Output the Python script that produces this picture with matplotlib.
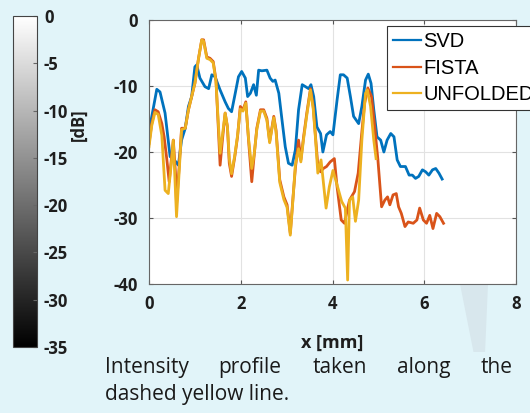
import matplotlib
matplotlib.use("Agg")
import matplotlib.pyplot as plt
from matplotlib.patches import Rectangle, Polygon
import matplotlib.cm as cm
import matplotlib.colors as mcolors

# intensity profiles [dB] along x [mm]
svd_x = [0, 0.17, 0.24, 0.35, 0.46, 0.53, 0.64, 0.71, 0.79, 0.86, 0.93, 1.0, 1.04, 1.11, 1.22, 1.30,
         1.37, 1.44, 1.55, 1.66, 1.73, 1.80, 1.88, 1.95, 2.02, 2.10, 2.15, 2.21, 2.28, 2.34, 2.39, 2.46,
         2.57, 2.64, 2.70, 2.75, 2.83, 2.90, 2.97, 3.04, 3.12, 3.19, 3.26, 3.34, 3.41, 3.48, 3.53, 3.59,
         3.66, 3.74, 3.79, 3.87, 3.95, 4.01, 4.10, 4.17, 4.24, 4.32, 4.39, 4.46, 4.57, 4.64, 4.72, 4.78,
         4.84, 4.90, 4.97, 5.05, 5.12, 5.19, 5.27, 5.34, 5.41, 5.48, 5.59, 5.67, 5.74, 5.81, 5.88, 5.96,
         6.03, 6.10, 6.18, 6.25, 6.32, 6.39]
svd_y = [-16.9, -10.5, -10.9, -14.1, -20.7, -21, -22, -18.2, -16.4, -13.1, -11.6, -7.1, -6.8, -8.8, -10.1, -10.4,
         -8.3, -8.6, -10.6, -12.4, -13.4, -13.9, -11.1, -8.6, -7.8, -8.8, -11.6, -11.1, -9.8, -11.4, -7.6, -7.7,
         -7.6, -8.8, -9.3, -9.1, -11.1, -15.2, -19.2, -21.7, -22, -19.7, -13.6, -9.8, -10.1, -10.4, -9.8, -11.6,
         -16.2, -17.2, -20, -17.4, -16.9, -17.4, -12.1, -8.3, -8.3, -8.8, -11.6, -14.6, -15.7, -13.1, -9.1, -8.2,
         -9.6, -13.6, -17.7, -18.2, -20, -18.2, -17.2, -17.7, -21.2, -22.2, -22.2, -23.5, -23.5, -24, -23.7, -22.7,
         -23, -23.5, -22.7, -22.5, -23.2, -24.1]

fista_x = [0, 0.06, 0.13, 0.20, 0.28, 0.33, 0.39, 0.44, 0.50, 0.53, 0.58, 0.60, 0.66, 0.71, 0.79, 0.86,
           0.93, 1.0, 1.08, 1.15, 1.19, 1.26, 1.33, 1.40, 1.46, 1.51, 1.55, 1.60, 1.66, 1.71, 1.75, 1.80,
           1.87, 1.93, 1.99, 2.05, 2.11, 2.17, 2.24, 2.29, 2.35, 2.43, 2.50, 2.57, 2.63, 2.72, 2.77, 2.85,
           2.94, 3.01, 3.08, 3.14, 3.19, 3.26, 3.31, 3.37, 3.44, 3.52, 3.58, 3.63, 3.68, 3.74, 3.80, 3.87,
           3.95, 4.04, 4.10, 4.19, 4.26, 4.37, 4.48, 4.56, 4.63, 4.70, 4.77, 4.85, 4.92, 4.99, 5.07, 5.14,
           5.20, 5.25, 5.32, 5.39, 5.44, 5.50, 5.58, 5.65, 5.76, 5.84, 5.90, 5.98, 6.05, 6.12, 6.19, 6.27,
           6.34, 6.42]
fista_y = [-18.7, -15.7, -13.6, -13.9, -15.7, -17.7, -21.2, -24.5, -20.2, -18.2, -23.5, -28.0, -22, -16.4, -16.4, -13.6,
           -11.6, -9.6, -5.8, -3.0, -3.0, -5.6, -5.8, -6.3, -9.1, -16.2, -22, -18.2, -14.1, -16.2, -21.7, -23.7,
           -20.7, -17.7, -13.1, -13.6, -12.4, -18.2, -24.5, -20.7, -16.4, -13.6, -13.6, -14.9, -18.4, -14.6, -16.7, -24.2,
           -26.8, -28, -32.3, -26.8, -22.5, -18.2, -21.2, -17.7, -14.1, -10.4, -13.1, -17.7, -22, -23, -22.5, -22.2,
           -21.5, -21, -25.3, -30.3, -30.8, -27.3, -26, -23.2, -17.7, -12.6, -10.3, -11.6, -16.2, -21.2, -28.3, -27.3,
           -26.8, -28, -26.5, -26.3, -28.3, -29.3, -31.3, -30.6, -30.8, -30.3, -28.5, -30.3, -30.8, -29.6, -31.6, -29.3,
           -29.8, -30.8]

unf_x = [0, 0.06, 0.13, 0.20, 0.28, 0.35, 0.42, 0.48, 0.53, 0.60, 0.66, 0.71, 0.79, 0.86, 0.93, 1.0,
         1.08, 1.15, 1.19, 1.26, 1.33, 1.40, 1.46, 1.51, 1.55, 1.60, 1.66, 1.71, 1.75, 1.80, 1.87, 1.93,
         1.99, 2.05, 2.11, 2.17, 2.24, 2.29, 2.35, 2.43, 2.50, 2.57, 2.63, 2.72, 2.77, 2.85, 2.94, 3.01,
         3.08, 3.14, 3.19, 3.26, 3.31, 3.37, 3.44, 3.52, 3.58, 3.63, 3.68, 3.75, 3.86, 3.93, 4.01, 4.10,
         4.20, 4.28, 4.33, 4.37, 4.44, 4.50, 4.57, 4.64, 4.72, 4.76, 4.83, 4.90, 4.95]
unf_y = [-19.2, -16.0, -14.0, -14.3, -17.5, -25.8, -26.3, -22.2, -18.2, -29.8, -22.7, -16.6, -16.4, -13.6, -11.6, -9.6,
         -5.8, -3.0, -3.2, -5.8, -6.0, -6.5, -9.3, -15.5, -20.2, -17.5, -14.1, -16.2, -21.0, -23.3, -20.5, -17.5,
         -13.5, -13.8, -12.6, -18.0, -22.5, -20.5, -16.6, -13.8, -13.8, -15.2, -18.6, -14.8, -17.0, -24.6, -27.2, -28.4,
         -32.6, -27.0, -22.0, -19.5, -21.5, -18.0, -14.4, -10.6, -13.5, -18.0, -23.2, -21.2, -28.5, -25.3, -22.8, -25.0,
         -27.5, -28.5, -39.4, -27.3, -26.8, -30.5, -27.3, -18.2, -11.1, -10.6, -13.1, -18.2, -21.0]

series_names = ["SVD", "FISTA", "UNFOLDED"]
series_colors = ["#0072BD", "#D95319", "#EDB120"]
x_ticks = [0, 2, 4, 6, 8]
y_ticks = [0, -10, -20, -30, -40]
cbar_ticks = [0, -5, -10, -15, -20, -25, -30, -35]
caption_line1 = ["Intensity", "profile", "taken", "along", "the"]
caption_line2 = "dashed yellow line."

W, H = 530, 413
bg = "#e1f4f9"
plt.rcParams["axes.unicode_minus"] = False
tick_font = {"family": "Open Sans", "weight": "bold", "size": 12}


def fx(px):
    return px / W


def fy(py):
    return 1 - py / H


fig = plt.figure(figsize=(W / 100, H / 100), dpi=100, facecolor=bg)

# faint watermark wedge behind everything
fig.add_artist(Polygon([(fx(460), fy(284)), (fx(488), fy(284)), (fx(483), fy(400))],
                       closed=True, transform=fig.transFigure, facecolor="#d8e7ed",
                       edgecolor="none", zorder=-1))

ax = fig.add_axes([fx(149), fy(284), fx(516) - fx(149), fy(20) - fy(284)])
ax.set_facecolor("white")
for xs, ys, name, col in zip([svd_x, fista_x, unf_x], [svd_y, fista_y, unf_y], series_names, series_colors):
    ax.plot(xs, ys, color=col, lw=2.0, label=name, solid_joinstyle="round")
ax.set_xlim(0, 8)
ax.set_ylim(-40, 0)
ax.set_xticks(x_ticks)
ax.set_yticks(y_ticks)
ax.grid(True, color="#e2e2e2", lw=0.8)
ax.set_axisbelow(True)
ax.tick_params(direction="in", length=3, top=True, right=True, color="#555555", pad=8)
for lab in ax.get_xticklabels() + ax.get_yticklabels():
    lab.set_fontproperties(tick_font)
    lab.set_color("#1e1e1e")
for sp in ax.spines.values():
    sp.set_color("#666666")
    sp.set_linewidth(0.8)

leg = ax.legend(loc="upper left", bbox_to_anchor=(fx(387), fy(26)), bbox_transform=fig.transFigure,
                fancybox=False, framealpha=1, edgecolor="#333333", handlelength=1.4,
                handletextpad=0.1, labelspacing=0.38, borderpad=0.3, borderaxespad=0,
                prop={"family": "Liberation Sans", "size": 14.5})
leg.get_frame().set_linewidth(0.8)
for ln in leg.get_lines():
    ln.set_linewidth(1.6)

# grey colorbar on the left
cax = fig.add_axes([fx(13), fy(347), fx(37) - fx(13), fy(16) - fy(347)])
sm = cm.ScalarMappable(norm=mcolors.Normalize(vmin=-35, vmax=0), cmap="gray")
cb = fig.colorbar(sm, cax=cax, ticks=cbar_ticks)
cb.outline.set_edgecolor("#444444")
cb.outline.set_linewidth(0.8)
cax.tick_params(direction="in", length=3, color="#666666", pad=5)
for lab in cax.get_yticklabels():
    lab.set_fontproperties(tick_font)
    lab.set_color("#1e1e1e")
fig.text(fx(79), fy(125), "[dB]", rotation=90, ha="center", va="center",
         fontproperties=tick_font, color="#1e1e1e")

# x label, its lower edge hidden under the caption band
fig.text(fx(332), fy(334), "x [mm]", ha="center", va="top", family="Open Sans",
         fontweight="bold", fontsize=13, color="#1e1e1e")
fig.add_artist(Rectangle((fx(95), 0), 1 - fx(95), fy(352), transform=fig.transFigure,
                         facecolor=bg, edgecolor="none", zorder=2))

# justified caption
word_x = [105, 218, 313, 397, 513]
for i, (w, px) in enumerate(zip(caption_line1, word_x)):
    fig.text(fx(px), fy(373), w, ha="right" if i == len(caption_line1) - 1 else "left",
             va="baseline", family="Open Sans", fontsize=15, color="#1a1a1a", zorder=3)
fig.text(fx(105), fy(400), caption_line2, ha="left", va="baseline",
         family="Open Sans", fontsize=15, color="#1a1a1a", zorder=3)

fig.savefig("out.png", dpi=100, facecolor=bg)
